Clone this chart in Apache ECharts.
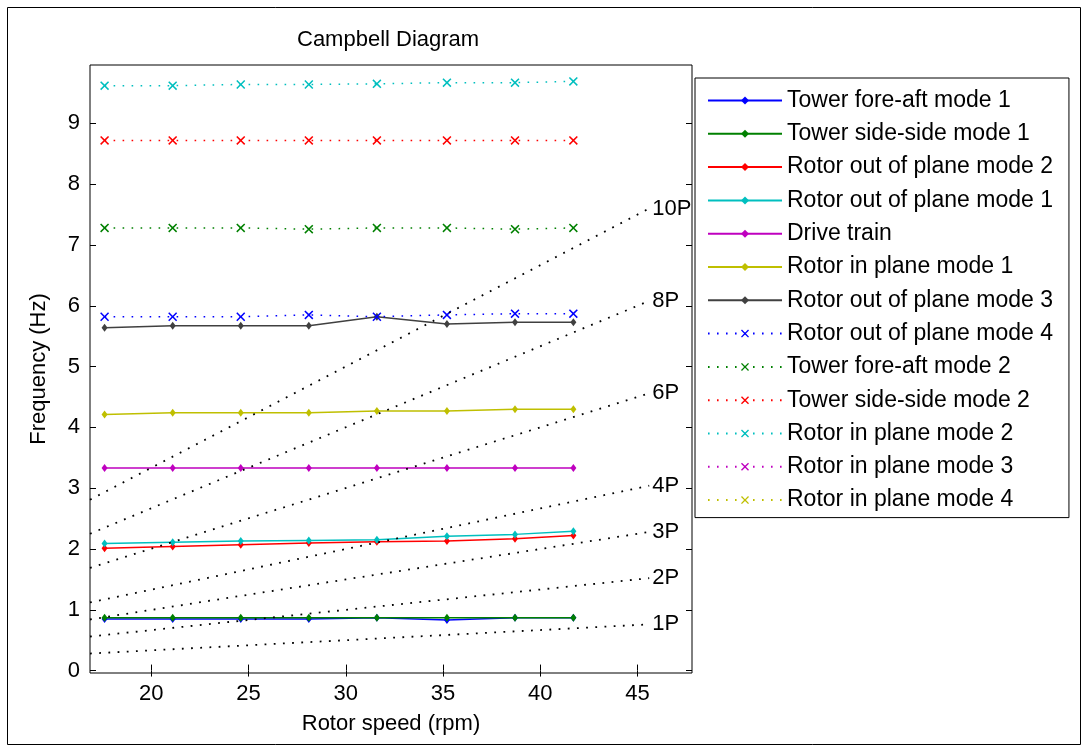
<!DOCTYPE html>
<html><head><meta charset="utf-8">
<script src="https://cdn.jsdelivr.net/npm/echarts@6/dist/echarts.min.js"></script>
<style>html,body{margin:0;padding:0;background:#fff}#c{width:1089px;height:752px}</style>
</head><body><div id="c"></div><script>
// ---- data ----
const rotorSpeed = [17.6, 21.1, 24.6, 28.1, 31.6, 35.2, 38.7, 41.7];

const towerForeAft1   = [0.85, 0.85, 0.85, 0.85, 0.87, 0.83, 0.87, 0.87];
const towerSideSide1  = [0.87, 0.87, 0.87, 0.87, 0.87, 0.87, 0.87, 0.87];
const rotorOOP2       = [2.01, 2.04, 2.07, 2.10, 2.12, 2.13, 2.17, 2.22];
const rotorOOP1       = [2.09, 2.11, 2.13, 2.14, 2.15, 2.21, 2.24, 2.29];
const driveTrain      = [3.33, 3.33, 3.33, 3.33, 3.33, 3.33, 3.33, 3.33];
const rotorIP1        = [4.21, 4.24, 4.24, 4.24, 4.27, 4.27, 4.30, 4.30];
const rotorOOP3       = [5.64, 5.67, 5.67, 5.67, 5.82, 5.70, 5.73, 5.73];
const rotorOOP4       = [5.82, 5.82, 5.82, 5.85, 5.82, 5.85, 5.87, 5.87];
const towerForeAft2   = [7.28, 7.28, 7.28, 7.26, 7.28, 7.28, 7.26, 7.28];
const towerSideSide2  = [8.72, 8.72, 8.72, 8.72, 8.72, 8.72, 8.72, 8.72];
const rotorIP2        = [9.62, 9.62, 9.64, 9.64, 9.65, 9.67, 9.67, 9.69];
const rotorIP3        = [];   // not visible inside the axes
const rotorIP4        = [];   // not visible inside the axes

const seriesNames = [
  'Tower fore-aft mode 1', 'Tower side-side mode 1', 'Rotor out of plane mode 2',
  'Rotor out of plane mode 1', 'Drive train', 'Rotor in plane mode 1',
  'Rotor out of plane mode 3', 'Rotor out of plane mode 4', 'Tower fore-aft mode 2',
  'Tower side-side mode 2', 'Rotor in plane mode 2', 'Rotor in plane mode 3',
  'Rotor in plane mode 4'
];
const seriesValues = [towerForeAft1, towerSideSide1, rotorOOP2, rotorOOP1, driveTrain,
  rotorIP1, rotorOOP3, rotorOOP4, towerForeAft2, towerSideSide2, rotorIP2, rotorIP3, rotorIP4];
const seriesColors = ['#0000FF', '#008000', '#FF0000', '#00BFBF', '#BF00BF', '#BFBF00', '#404040',
  '#0000FF', '#008000', '#FF0000', '#00BFBF', '#BF00BF', '#BFBF00'];
const seriesDotted = [false, false, false, false, false, false, false,
  true, true, true, true, true, true];

// harmonic (nP) lines: labels, start / end rotor speed and frequencies
const harmonicLabels = ['1P', '2P', '3P', '4P', '6P', '8P', '10P'];
const harmonicSpeed = [16.85, 45.6];
const harmonicStart = [0.28, 0.56, 0.84, 1.12, 1.69, 2.25, 2.81];
const harmonicEnd   = [0.76, 1.52, 2.28, 3.04, 4.56, 6.08, 7.60];

const xTicks = [20, 25, 30, 35, 40, 45];
const yTicks = [0, 1, 2, 3, 4, 5, 6, 7, 8, 9];

// ---- chart ----
const FONT = '"Liberation Sans", Arial, sans-serif';
const FS = 22;
const crossPath = 'path://M0,1.2L1.2,0L5,3.8L8.8,0L10,1.2L6.2,5L10,8.8L8.8,10L5,6.2L1.2,10L0,8.8L3.8,5Z';

const series = seriesNames.map((name, i) => ({
  name: name,
  type: 'line',
  data: seriesValues[i].map((v, k) => [rotorSpeed[k], v]),
  symbol: seriesDotted[i] ? crossPath : 'diamond',
  symbolSize: seriesDotted[i] ? 9 : [6, 8],
  showAllSymbol: true,
  color: seriesColors[i],
  itemStyle: { color: seriesColors[i] },
  lineStyle: { color: seriesColors[i], width: 1.5,
               type: seriesDotted[i] ? [1.6, 7.4] : 'solid' },
  emphasis: { disabled: true },
  animation: false,
  z: 2
}));

harmonicLabels.forEach((lab, i) => {
  series.push({
    name: lab,
    type: 'line',
    data: [[harmonicSpeed[0], harmonicStart[i]], [harmonicSpeed[1], harmonicEnd[i]]],
    symbol: 'none',
    lineStyle: { color: '#000', width: 1.8, type: [1.8, 7.4] },
    endLabel: { show: true, formatter: lab, color: '#000', fontSize: FS, fontFamily: FONT, distance: 3 },
    emphasis: { disabled: true },
    animation: false,
    z: 3
  });
});

const chart = echarts.init(document.getElementById('c'), null, { renderer: 'canvas' });
chart.setOption({
  backgroundColor: '#fff',
  animation: false,
  title: {
    text: 'Campbell Diagram', left: 292, top: 24,
    textStyle: { fontFamily: FONT, fontSize: FS, fontWeight: 'normal', color: '#000' }
  },
  graphic: [{
    type: 'rect', shape: { x: 7.5, y: 7.5, width: 1073, height: 737 },
    style: { fill: 'none', stroke: '#000', lineWidth: 1 }, z: 0, silent: true
  }],
  grid: { left: 90, top: 65, width: 602, height: 608, show: true,
          borderColor: '#000', borderWidth: 1, backgroundColor: '#fff' },
  legend: {
    data: seriesNames,
    orient: 'vertical',
    left: 695, top: 78,
    padding: [11, 16, 6, 12],
    itemWidth: 74, itemHeight: 10, itemGap: 10.3,
    backgroundColor: '#fff', borderColor: '#000', borderWidth: 1,
    textStyle: { fontFamily: FONT, fontSize: 23, color: '#000', lineHeight: 23 },
    selectedMode: false,
    z: 10
  },
  xAxis: [{
    type: 'value', min: 16.85, max: 47.8,
    name: 'Rotor speed (rpm)', nameLocation: 'middle', nameGap: 40,
    nameTextStyle: { fontFamily: FONT, fontSize: FS, color: '#000' },
    axisLine: { show: false },
    axisTick: { show: true, inside: true, length: 6, customValues: xTicks, lineStyle: { color: '#000' } },
    axisLabel: { customValues: xTicks, margin: 10, fontFamily: FONT, fontSize: FS, color: '#000' },
    splitLine: { show: false }
  }, {
    type: 'value', min: 16.85, max: 47.8, position: 'top',
    axisLine: { show: false },
    axisTick: { show: true, inside: true, length: 6, customValues: xTicks, lineStyle: { color: '#000' } },
    axisLabel: { show: false },
    splitLine: { show: false }
  }],
  yAxis: [{
    type: 'value', min: -0.04, max: 9.96,
    name: 'Frequency (Hz)', nameLocation: 'middle', nameGap: 40,
    nameTextStyle: { fontFamily: FONT, fontSize: FS, color: '#000' },
    axisLine: { show: false },
    axisTick: { show: true, inside: true, length: 6, customValues: yTicks, lineStyle: { color: '#000' } },
    axisLabel: { customValues: yTicks, margin: 10, fontFamily: FONT, fontSize: FS, color: '#000' },
    splitLine: { show: false }
  }, {
    type: 'value', min: -0.04, max: 9.96, position: 'right',
    axisLine: { show: false },
    axisTick: { show: true, inside: true, length: 6, customValues: yTicks, lineStyle: { color: '#000' } },
    axisLabel: { show: false },
    splitLine: { show: false }
  }],
  series: series
});
</script></body></html>
